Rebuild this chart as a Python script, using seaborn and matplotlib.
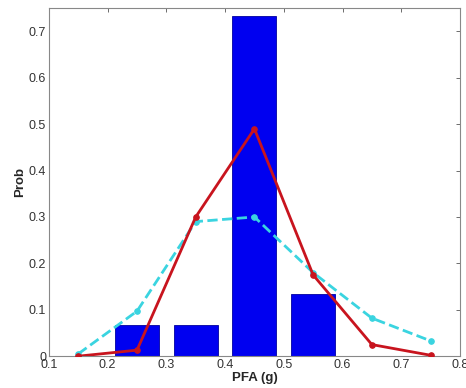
import numpy as np
import pandas as pd
import matplotlib
matplotlib.use('Agg')
import matplotlib.pyplot as plt
import seaborn as sns

# histogram bins (PFA, g) and probabilities
bar_x = [0.25, 0.35, 0.45, 0.55]
bar_prob = [0.067, 0.067, 0.733, 0.133]

# fitted curves
curve_x = [0.15, 0.25, 0.35, 0.45, 0.55, 0.65, 0.75]
red_prob = [0.0, 0.013, 0.30, 0.49, 0.175, 0.025, 0.002]
cyan_prob = [0.005, 0.097, 0.29, 0.30, 0.18, 0.082, 0.033]

sns.set_style('white')
plt.rcParams['font.family'] = ['Liberation Sans', 'DejaVu Sans']

fig = plt.figure(figsize=(4.66, 3.88), dpi=100)
ax = fig.add_axes([0.105, 0.082, 0.882, 0.897])

ax.bar(bar_x, bar_prob, width=0.075, color='#0000f0', edgecolor='#0000a0', linewidth=0.6, zorder=1)

df = pd.DataFrame({'x': curve_x, 'red': red_prob, 'cyan': cyan_prob})
sns.lineplot(data=df, x='x', y='red', ax=ax, color='#c8141e', linewidth=2,
             marker='o', markersize=4, markeredgecolor='#c8141e', zorder=3)
sns.lineplot(data=df, x='x', y='cyan', ax=ax, color='#3ad4e0', linewidth=2,
             linestyle='--', marker='o', markersize=4, markeredgecolor='#3ad4e0', zorder=2)

ax.set_xlim(0.1, 0.8)
ax.set_ylim(0, 0.75)
ax.set_xticks(np.arange(0.1, 0.81, 0.1))
ax.set_xticklabels(['0.1', '0.2', '0.3', '0.4', '0.5', '0.6', '0.7', '0.8'])
ax.set_yticks(np.arange(0, 0.71, 0.1))
ax.set_yticklabels(['0', '0.1', '0.2', '0.3', '0.4', '0.5', '0.6', '0.7'])
ax.tick_params(direction='in', top=True, right=True, length=3, width=0.6,
               color='#555555', labelsize=9, labelcolor='#333333', pad=2)
for s in ax.spines.values():
    s.set_color('#888888')
    s.set_linewidth(0.8)

ax.set_xlabel('PFA (g)', fontweight='bold', fontsize=9.5, labelpad=1)
ax.set_ylabel('Prob', fontweight='bold', fontsize=9.5, labelpad=2)

fig.savefig('out.png', dpi=100)
